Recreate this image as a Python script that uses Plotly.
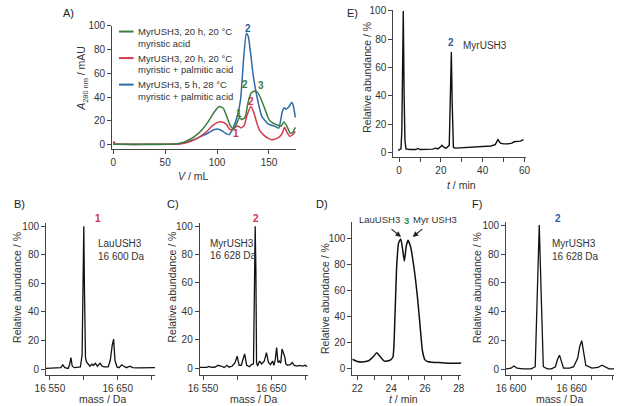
import plotly.graph_objects as go

W, H = 620, 406
FONT = "Arial, Liberation Sans, sans-serif"
def fx(p): return p / W
def fy(p): return 1 - p / H

# ---------------- Panel A: SEC chromatograms ----------------
a_green_v = [0, 20, 40, 55, 62, 68, 74, 80, 86, 92, 97, 102, 106, 110, 113, 116, 119, 121.5, 124, 127, 130, 133, 136, 139, 142, 146, 150, 154, 158, 161.5, 164.5, 167.5, 170.5, 173, 175.4]
a_green_a = [0.3, 0.2, 0.2, 0.3, 0.8, 2, 4.5, 8, 13, 20, 27, 32, 30.5, 22, 15.5, 13, 18, 22.5, 21, 23, 36, 43.5, 44.8, 44, 39, 30, 21, 18, 16.5, 15.5, 19, 15, 9.5, 10.5, 14.5]
a_red_v = [0, 0.8, 2, 10, 30, 50, 60, 66, 72, 78, 84, 90, 95, 100, 105, 109, 112, 115, 118, 120.5, 123, 126, 129, 132.5, 135, 138, 141, 145, 149, 153, 157, 160, 162.5, 165, 167.5, 170, 173, 175.4]
a_red_a = [1, 2.5, 0.5, 0.2, 0.2, 0.2, 0.3, 0.8, 2, 4, 7, 11, 15.5, 18.5, 19, 17, 13, 12.5, 15, 15.5, 14, 16, 25, 32, 28, 19, 12, 8, 5.5, 4, 5, 6.5, 9, 14.5, 10, 7, 8.5, 11]
a_blue_v = [0, 20, 40, 55, 62, 68, 74, 80, 86, 92, 97, 101, 105, 109, 112, 116.4, 119.5, 122.6, 125.7, 128.2, 130, 132, 135, 138.3, 143, 149, 155.4, 159.4, 162.6, 164.5, 166.4, 169.4, 171.6, 173, 175.4]
a_blue_a = [0.2, 0.1, 0.1, 0.2, 0.6, 1.5, 3, 5, 7.5, 10, 12.5, 13, 11.5, 9, 8.5, 16, 24, 37.6, 73.8, 93.6, 91, 79, 57, 40.7, 24, 17.4, 15.5, 13.8, 27, 31, 29.8, 32, 35.3, 34, 22.9]
a_legend = [("MyrUSH3, 20 h, 20 °C", "myristic acid"),
            ("MyrUSH3, 20 h, 20 °C", "myristic + palmitic acid"),
            ("MyrUSH3, 5 h, 28 °C", "myristic + palmitic acid")]
a_xticks = [0, 50, 100, 150]
y_ticks = [0, 20, 40, 60, 80, 100]

# ---------------- Panel E: LC trace ----------------
e_t = [-0.5, 0.9, 1.3, 1.6, 2.0, 2.4, 2.8, 3.3, 5, 8, 9, 10, 13, 16, 17.5, 18.5, 19.5, 20.5, 21.5, 22.5, 24.0, 24.6, 25.0, 25.4, 26.0, 27, 30, 35, 40, 44, 46, 47.3, 48.5, 50, 52, 54, 55, 56, 58, 59.5]
e_a = [1.5, 2.5, 15, 50, 100, 40, 8, 2.5, 2, 2, 2.8, 2, 2, 2.3, 3, 2.5, 3.5, 5, 3.5, 3, 5, 40, 71, 35, 3.5, 3, 3.3, 3.6, 4, 4.5, 5.5, 9, 6.5, 6, 6, 6.5, 7.5, 7.5, 8, 9]
e_xticks = [0, 10, 20, 30, 40, 50, 60]
e_xlabels = ["0", "", "20", "", "40", "", "60"]

# ---------------- Panel B: MS of peak 1 ----------------
b_mass = [16544, 16550, 16560, 16566, 16569, 16572, 16577, 16579, 16581, 16583, 16586, 16590, 16595, 16597.5, 16599, 16600, 16601, 16602.5, 16604, 16606, 16609, 16612, 16614, 16617, 16620, 16622, 16624, 16627, 16630, 16636, 16639, 16642, 16644, 16646, 16649, 16652, 16656, 16659, 16663, 16668, 16672, 16680, 16690, 16700, 16705]
b_abund = [0.5, 0.5, 0.5, 1, 3, 1, 0.5, 3, 8, 2, 1, 1, 1.5, 10, 70, 100, 55, 8, 5, 4, 2, 3.5, 2.5, 4, 2, 3, 4, 2, 1.5, 1.5, 6, 17, 21, 6, 1.5, 1, 3, 2, 1, 2, 1, 0.8, 1, 0.8, 1]
ms_ticks_bc = [16550, 16600, 16650, 16700]
ms_labels_bc = ["16 550", "", "16 650", ""]

# ---------------- Panel C: MS of peak 2 ----------------
c_mass = [16545, 16555, 16559, 16562, 16568, 16572, 16576, 16581, 16585, 16588, 16593, 16597, 16600, 16603, 16606, 16609, 16611, 16614, 16618, 16621, 16624, 16625.5, 16626.5, 16627.5, 16628.5, 16630, 16633, 16636, 16640, 16643, 16646, 16649, 16652, 16654, 16656, 16658, 16660, 16662, 16664, 16666, 16668, 16670, 16671.5, 16674, 16678, 16681, 16684, 16688, 16692, 16696, 16700, 16703]
c_abund = [0.5, 0.5, 1.2, 0.5, 0.8, 2, 1.5, 0.5, 2, 0.7, 1.5, 4, 8.5, 2, 2, 7, 10, 2, 1, 2.5, 3, 60, 100, 70, 4, 1.5, 5, 3, 5, 11, 4, 2.5, 5, 2, 6, 14.5, 4, 5, 3.5, 13.5, 11, 8, 3, 2, 2.5, 4, 2, 1.5, 2, 1.5, 2, 1]

# ---------------- Panel D: LC of peak 3 ----------------
d_t = [21.7, 22.0, 22.4, 22.7, 22.95, 23.15, 23.35, 23.6, 23.9, 24.1, 24.2, 24.32, 24.44, 24.57, 24.68, 24.78, 24.9, 25.0, 25.15, 25.35, 25.55, 25.72, 25.85, 26.0, 26.2, 26.6, 27.0, 27.5, 27.9, 28.15]
d_a = [7.5, 5.8, 5.5, 6.5, 9.5, 12.5, 9.5, 6, 6.5, 9, 30, 77, 97, 100, 92, 83, 95, 99, 94, 78, 56, 32, 14, 7, 5.5, 5, 4.8, 4.4, 4.3, 4.5]
d_xticks = [22, 23, 24, 25, 26, 27, 28]
d_xlabels = ["22", "", "24", "", "26", "", "28"]

# ---------------- Panel F: MS of peak 2 (5 h) ----------------
f_mass = [16595.2, 16600, 16603, 16606, 16612, 16620, 16624, 16626, 16628, 16630, 16632, 16636, 16640, 16644, 16646, 16648, 16650, 16652, 16658, 16662, 16666, 16668, 16670, 16672, 16674, 16680, 16686, 16690, 16693, 16697, 16702]
f_abund = [0.5, 1, 2.5, 1, 0.5, 0.5, 2, 50, 100, 50, 2, 0.5, 0.5, 2, 7, 10, 6, 1, 1, 2, 8, 16, 20, 12, 3, 1, 1.5, 3, 2, 0.5, 0.5]
f_xticks = [16600, 16620, 16640, 16660, 16680, 16700]
f_xlabels = ["16 600", "", "", "16 660", "", ""]

GREEN, RED, BLUE = "#3c7d3e", "#d4394f", "#2e6aa6"
LBL_BLUE, LBL_RED, LBL_GREEN = "#2a5d99", "#d0304a", "#2f8a4f"
AXC = "#444444"
TXT = "#333333"

fig = go.Figure()

# panel geometry in pixels: (x0, x1, ytop, ybottom), ranges
panels = [
    dict(name="A", x=(103, 292), y=(20, 146), xr=[-1, 176], yr=[-4.1, 100], xt=a_xticks, xl=[str(v) for v in a_xticks]),
    dict(name="E", x=(392, 528), y=(4, 154), xr=[-2.8, 60.5], yr=[-3.5, 100.7], xt=e_xticks, xl=e_xlabels),
    dict(name="B", x=(35, 147), y=(221, 375), xr=[16544.3, 16705], yr=[-3.8, 102.1], xt=ms_ticks_bc, xl=ms_labels_bc),
    dict(name="C", x=(193, 304), y=(221, 375), xr=[16545, 16703.6], yr=[-4.5, 102.1], xt=ms_ticks_bc, xl=ms_labels_bc),
    dict(name="D", x=(350, 462), y=(220, 375), xr=[21.71, 28.15], yr=[-4.3, 112.9], xt=d_xticks, xl=d_xlabels),
    dict(name="F", x=(508, 619), y=(220, 375), xr=[16595.2, 16701.9], yr=[-3.4, 102], xt=f_xticks, xl=f_xlabels),
]

base_axis = dict(showgrid=False, zeroline=False, showline=True, linecolor=AXC, linewidth=1,
                 ticks="outside", ticklen=4, tickwidth=1, tickcolor=AXC,
                 tickfont=dict(size=10, color=TXT, family=FONT), fixedrange=True)

layout_axes = {}
for i, p in enumerate(panels, start=1):
    sfx = "" if i == 1 else str(i)
    layout_axes["xaxis" + sfx] = dict(base_axis, domain=[fx(p["x"][0]), fx(p["x"][1])], range=p["xr"],
                                      anchor="y" + sfx, tickmode="array", tickvals=p["xt"], ticktext=p["xl"])
    layout_axes["yaxis" + sfx] = dict(base_axis, domain=[fy(p["y"][1]), fy(p["y"][0])], range=p["yr"],
                                      anchor="x" + sfx, tickmode="array", tickvals=y_ticks)
    p["xa"] = "x" + sfx
    p["ya"] = "y" + sfx

def add_line(panel, xs, ys, color, width=1.5, shape="linear", smoothing=0.6):
    p = panels[[q["name"] for q in panels].index(panel)]
    line = dict(color=color, width=width, shape=shape)
    if shape == "spline":
        line["smoothing"] = smoothing
    fig.add_trace(go.Scatter(x=xs, y=ys, mode="lines", line=line, xaxis=p["xa"], yaxis=p["ya"],
                             showlegend=False, hoverinfo="skip"))

add_line("A", a_blue_v, a_blue_a, BLUE, 1.5, "spline", 0.5)
add_line("A", a_red_v, a_red_a, RED, 1.5, "spline", 0.5)
add_line("A", a_green_v, a_green_a, GREEN, 1.5, "spline", 0.5)
add_line("E", e_t, e_a, "#111111", 1.4)
add_line("B", b_mass, b_abund, "#111111", 1.3)
add_line("C", c_mass, c_abund, "#111111", 1.3)
add_line("D", d_t, d_a, "#111111", 1.5, "spline", 0.5)
add_line("F", f_mass, f_abund, "#111111", 1.3)

ann = []
shapes = []
def text(x, y, s, size=10, color=TXT, xanchor="center", bold=False, angle=0):
    if bold:
        s = "<b>" + s + "</b>"
    ann.append(dict(x=fx(x), y=fy(y), xref="paper", yref="paper", text=s, showarrow=False,
                    xanchor=xanchor, yanchor="middle", textangle=angle,
                    font=dict(size=size, color=color, family=FONT)))

# panel letters
for lab, x, y in [("A)", 50, 7), ("E)", 342, 7), ("B)", 0, 201), ("C)", 157, 201), ("D)", 311, 201), ("F)", 471, 201)]:
    text(x, y, lab, 11, "#222222", "left")

# Panel A legend (manual)
for (l1, l2), col, yy in zip(a_legend, [GREEN, RED, BLUE], [26, 53, 80]):
    shapes.append(dict(type="line", xref="paper", yref="paper", x0=fx(110), x1=fx(125), y0=fy(yy), y1=fy(yy),
                       line=dict(color=col, width=2)))
    text(128, yy, l1, 9.5, TXT, "left")
    text(128, yy + 12, l2, 9.5, TXT, "left")

# Panel A peak labels
text(242.3, 22.7, "2", 10, LBL_BLUE, bold=True)
text(240, 80, "2", 10, GREEN, bold=True)
text(256, 81, "3", 10, GREEN, bold=True)
text(245.7, 96.7, "2", 10, LBL_RED, bold=True)
text(233.3, 109.3, "1", 10, GREEN, bold=True)
text(230.7, 129.3, "1", 10, LBL_RED, bold=True)

# axis titles
text(72, 74, "<i>A</i><sub>280 nm</sub> / mAU", 10.5, TXT, angle=-90)
text(187, 173, "<i>V</i> / mL", 10.5, TXT)
text(365, 72, "Relative abundance / %", 10.5, TXT, angle=-90)
text(462, 182, "<i>t</i> / min", 10.5, TXT)
for xx, yc in [(5, 286), (165, 286), (322, 298), (478, 286)]:
    text(xx, yc, "Relative abundance / %", 10.5, TXT, angle=-90)
text(93, 400, "mass / Da", 10.5, TXT)
text(248, 400, "mass / Da", 10.5, TXT)
text(403, 400, "<i>t</i> / min", 10.5, TXT)
text(563, 400, "mass / Da", 10.5, TXT)

# Panel E labels
text(451.7, 37.3, "2", 10, LBL_BLUE, bold=True)
text(486, 40.7, "MyrUSH3", 10, TXT)

# Panel B labels
text(88.3, 216.7, "1", 10, LBL_RED, bold=True)
text(86, 241.7, "LauUSH3", 10, TXT, "left")
text(86, 255, "16 600 Da", 10, TXT, "left")

# Panel C labels
text(251, 216, "2", 10, LBL_RED, bold=True)
text(201.7, 241.7, "MyrUSH3", 10, TXT, "left")
text(201.7, 254, "16 628 Da", 10, TXT, "left")

# Panel D labels + arrows
text(377.5, 217, "LauUSH3", 9.5, TXT)
text(435, 217, "Myr USH3", 9.5, TXT)
text(405.5, 218.3, "3", 9.5, LBL_GREEN, bold=True)
for hx, hy, tx, ty in [(400, 235, 389, 226), (412, 235, 423, 226)]:
    ann.append(dict(x=fx(hx), y=fy(hy), xref="paper", yref="paper", ax=tx - hx, ay=ty - hy,
                    axref="pixel", ayref="pixel", text="", showarrow=True, arrowhead=2,
                    arrowsize=1, arrowwidth=1.1, arrowcolor="#222222"))

# Panel F labels
text(561.7, 216, "2", 10, LBL_BLUE, bold=True)
text(552.7, 241.7, "MyrUSH3", 10, TXT, "left")
text(552.7, 255, "16 628 Da", 10, TXT, "left")

fig.update_layout(width=W, height=H, margin=dict(l=0, r=0, t=0, b=0), autosize=False,
                  paper_bgcolor="white", plot_bgcolor="white", showlegend=False,
                  font=dict(family=FONT, size=10, color=TXT),
                  annotations=ann, shapes=shapes, **layout_axes)

fig.write_html("out.html", config={"displayModeBar": False},
               post_script="document.body.style.margin='0px';document.body.style.padding='0px';")
